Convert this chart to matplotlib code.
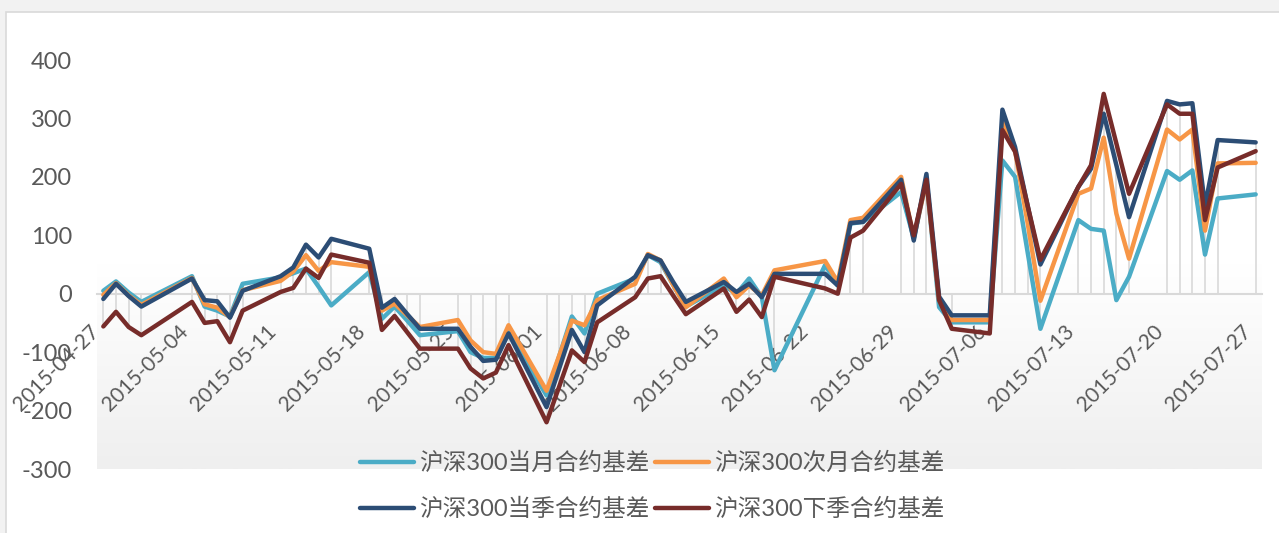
import numpy as np
import pandas as pd
import matplotlib
matplotlib.use("Agg")
import matplotlib.pyplot as plt
import matplotlib.dates as mdates
from matplotlib.colors import LinearSegmentedColormap
from matplotlib.patches import Rectangle

# trading days, 2015-04-27 .. 2015-07-27
dates = pd.to_datetime([
    "2015-04-27", "2015-04-28", "2015-04-29", "2015-04-30",
    "2015-05-04", "2015-05-05", "2015-05-06", "2015-05-07", "2015-05-08",
    "2015-05-11", "2015-05-12", "2015-05-13", "2015-05-14", "2015-05-15",
    "2015-05-18", "2015-05-19", "2015-05-20", "2015-05-21", "2015-05-22",
    "2015-05-25", "2015-05-26", "2015-05-27", "2015-05-28", "2015-05-29",
    "2015-06-01", "2015-06-02", "2015-06-03", "2015-06-04", "2015-06-05",
    "2015-06-08", "2015-06-09", "2015-06-10", "2015-06-11", "2015-06-12",
    "2015-06-15", "2015-06-16", "2015-06-17", "2015-06-18", "2015-06-19",
    "2015-06-23", "2015-06-24", "2015-06-25", "2015-06-26",
    "2015-06-29", "2015-06-30", "2015-07-01", "2015-07-02", "2015-07-03",
    "2015-07-06", "2015-07-07", "2015-07-08", "2015-07-09", "2015-07-10",
    "2015-07-13", "2015-07-14", "2015-07-15", "2015-07-16", "2015-07-17",
    "2015-07-20", "2015-07-21", "2015-07-22", "2015-07-23", "2015-07-24",
    "2015-07-27",
])

basis_m1 = [5, 21, 2, -14, 30, -22, -29, -39, 17, 28, 35, 43, 12, -20,
            37, -43, -22, -46, -71, -64, -100, -110, -110, -66,
            -174, -107, -39, -68, 0, 26, 66, 54, 15, -22,
            14, 0, 26, -6, -131, 49, 14, 120, 123,
            174, 95, 194, -23, -49, -49, 228, 200, 70, -60,
            126, 111, 108, -11, 29, 210, 195, 211, 67, 163, 170]

basis_m2 = [-2, 18, -3, -19, 27, -18, -24, -40, 6, 22, 38, 66, 39, 54,
            46, -29, -17, -37, -57, -45, -80, -100, -103, -54,
            -166, -106, -46, -54, -11, 17, 68, 57, 15, -23,
            26, -6, 14, -3, 40, 56, 20, 126, 130,
            200, 95, 194, -11, -45, -45, 294, 245, 120, -12,
            171, 180, 267, 137, 60, 281, 264, 281, 108, 223, 224]

basis_q1 = [-9, 17, -4, -22, 26, -11, -13, -41, 5, 30, 45, 84, 62, 94,
            77, -24, -9, -35, -60, -60, -91, -115, -113, -68,
            -194, -128, -62, -100, -20, 29, 66, 57, 20, -14,
            20, 3, 17, -6, 34, 34, 14, 121, 123,
            195, 91, 205, -5, -37, -37, 315, 251, 150, 50,
            183, 214, 308, 220, 131, 330, 324, 326, 150, 263, 259]

basis_q2 = [-56, -31, -57, -71, -14, -50, -47, -83, -29, 3, 10, 43, 27, 67,
            53, -62, -38, -66, -94, -94, -128, -145, -135, -88,
            -220, -159, -97, -117, -49, -6, 26, 30, -3, -35,
            9, -31, -10, -40, 29, 9, 0, 96, 108,
            188, 100, 195, -11, -60, -68, 280, 243, 150, 58,
            183, 220, 342, 257, 171, 324, 308, 308, 126, 216, 244]

labels = ["沪深300当月合约基差", "沪深300次月合约基差",
          "沪深300当季合约基差", "沪深300下季合约基差"]
colors = ["#4bacc6", "#f79646", "#2c4d75", "#772c2a"]

plt.rcParams["font.family"] = ["Lato", "Noto Sans CJK SC"]
plt.rcParams["axes.unicode_minus"] = False
text_color = "#595959"

fig = plt.figure(figsize=(12.79, 5.33), dpi=100, facecolor="#f2f2f2")
fig.patches.append(Rectangle((6 / 1279, -0.05), 1.0, (533 - 12) / 533 + 0.05,
                             transform=fig.transFigure, facecolor="white",
                             edgecolor="#d9d9d9", lw=1.2, zorder=-10))

ax = fig.add_axes([97 / 1279, 64 / 533, (1262 - 97) / 1279, (469 - 60) / 533])
ax.patch.set_alpha(0)

x0 = dates[0] - pd.Timedelta(hours=12)
x1 = dates[-1] + pd.Timedelta(hours=12)
ax.set_xlim(x0, x1)
ax.set_ylim(-300, 400)

# soft vertical gradient behind the plot area
bg = LinearSegmentedColormap.from_list("bg", ["#ffffff", "#ffffff", "#efefef"])
ax.imshow(np.linspace(0, 1, 256).reshape(-1, 1), cmap=bg, aspect="auto",
          extent=[mdates.date2num(x0), mdates.date2num(x1), -300, 400],
          origin="upper", zorder=0)

series = np.array([basis_m1, basis_m2, basis_q1, basis_q2])
lo = np.minimum(series.min(axis=0), 0)
hi = np.maximum(series.max(axis=0), 0)
ax.vlines(dates, lo, hi, color="#d9d9d9", lw=1.2, zorder=1)

handles = []
for vals, lab, col in zip(series, labels, colors):
    h, = ax.plot(dates, vals, color=col, lw=3.2, label=lab,
                 solid_joinstyle="round", solid_capstyle="round", zorder=3)
    handles.append(h)

for side in ["top", "right", "left"]:
    ax.spines[side].set_visible(False)
ax.spines["bottom"].set_position(("data", 0))
ax.spines["bottom"].set_color("#d9d9d9")
ax.spines["bottom"].set_linewidth(1.5)
ax.spines["bottom"].set_zorder(2)

ax.set_yticks(range(-300, 401, 100))
ax.tick_params(axis="y", length=0, pad=18, labelsize=17, labelcolor=text_color)

ticks = pd.date_range("2015-04-27", "2015-07-27", freq="7D")
ax.set_xticks(ticks)
ax.set_xticklabels([t.strftime("%Y-%m-%d") for t in ticks])
ax.tick_params(axis="x", length=0, pad=20, labelsize=15, labelcolor=text_color)
for lbl in ax.get_xticklabels():
    lbl.set_rotation(45)
    lbl.set_ha("right")

order = [0, 2, 1, 3]
fig.legend([handles[i] for i in order], [labels[i] for i in order],
           ncol=2, loc="center", bbox_to_anchor=(652 / 1279, 1 - 486 / 533),
           frameon=False, fontsize=17, labelcolor=text_color,
           handlelength=2.3, handletextpad=0.2, columnspacing=0.25,
           labelspacing=1.0)

fig.savefig("out.png", dpi=100, facecolor=fig.get_facecolor())
